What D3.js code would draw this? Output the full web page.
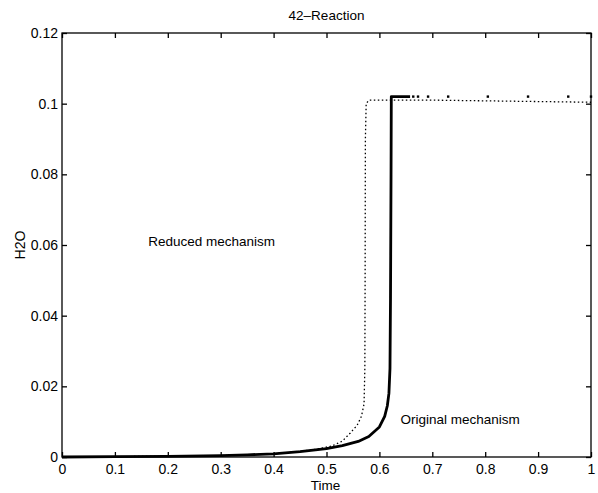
<!DOCTYPE html>
<html>
<head>
<meta charset="utf-8">
<script src="https://cdn.jsdelivr.net/npm/d3@7"></script>
<style>
  html, body { margin: 0; padding: 0; background: #fff; }
  svg { display: block; }
  text { font-family: "Liberation Sans", Arial, Helvetica, sans-serif; fill: #000; }
</style>
</head>
<body>
<svg id="chart" width="598" height="493"></svg>
<script>
// ---- data ----
const chartTitle = "42\u2013Reaction";
const xLabel = "Time";
const yLabel = "H2O";
const xTicks = [0, 0.1, 0.2, 0.3, 0.4, 0.5, 0.6, 0.7, 0.8, 0.9, 1];
const yTicks = [0, 0.02, 0.04, 0.06, 0.08, 0.1, 0.12];

// Original mechanism (solid)
const timeOrig = [0, 0.1, 0.2, 0.3, 0.35, 0.4, 0.45, 0.5, 0.53, 0.56, 0.58, 0.6, 0.61, 0.615, 0.618, 0.62, 0.621, 0.622, 0.6225, 0.63, 0.645, 0.658];
const h2oOrig  = [0, 0.0001, 0.0002, 0.0004, 0.0006, 0.0009, 0.0015, 0.0024, 0.0032, 0.0044, 0.0058, 0.0085, 0.0115, 0.0145, 0.018, 0.025, 0.045, 0.08, 0.102, 0.102, 0.102, 0.102];
// sparse output points of the original mechanism after ignition
const timeOrigPts = [0.664, 0.673, 0.692, 0.73, 0.805, 0.881, 0.957, 1.0];
const h2oOrigPts  = [0.102, 0.102, 0.102, 0.102, 0.102, 0.102, 0.102, 0.102];

// Reduced mechanism (dotted)
const timeRed = [0, 0.1, 0.2, 0.3, 0.35, 0.4, 0.45, 0.48, 0.51, 0.53, 0.545, 0.558, 0.566, 0.571, 0.5725, 0.573, 0.5735, 0.575, 0.58, 0.7, 0.85, 1.0];
const h2oRed  = [0, 0.0001, 0.0002, 0.0004, 0.0006, 0.0009, 0.0016, 0.0022, 0.0031, 0.0045, 0.0068, 0.009, 0.0115, 0.015, 0.025, 0.05, 0.09, 0.1, 0.101, 0.101, 0.1007, 0.1004];

const labels = [
  { text: "Reduced mechanism", x: 0.163, y: 0.0597 },
  { text: "Original mechanism", x: 0.64, y: 0.0093 }
];

// ---- layout ----
const svg = d3.select("#chart");
const mLeft = 62, mRight = 591, mTop = 33, mBottom = 457;
const x = d3.scaleLinear().domain([0, 1]).range([mLeft, mRight]);
const y = d3.scaleLinear().domain([0, 0.12]).range([mBottom, mTop]);
const tickLen = 5;

// curves (clipped to plot area)
svg.append("clipPath").attr("id", "clip")
  .append("rect").attr("x", mLeft).attr("y", mTop - 2).attr("width", mRight - mLeft + 2).attr("height", mBottom - mTop + 4);

const g = svg.append("g").attr("clip-path", "url(#clip)");
const line = d3.line().x(d => x(d[0])).y(d => y(d[1]));

g.append("path")
  .datum(timeRed.map((t, i) => [t, h2oRed[i]]))
  .attr("d", line)
  .attr("fill", "none")
  .attr("stroke", "#000")
  .attr("stroke-width", 1.3)
  .attr("stroke-dasharray", "1.5,2.5");

g.append("path")
  .datum(timeOrig.map((t, i) => [t, h2oOrig[i]]))
  .attr("d", line)
  .attr("fill", "none")
  .attr("stroke", "#000")
  .attr("stroke-width", 2.8)
  .attr("stroke-linejoin", "round");

g.selectAll("rect.pt")
  .data(timeOrigPts.map((t, i) => [t, h2oOrigPts[i]]))
  .enter().append("rect")
  .attr("class", "pt")
  .attr("x", d => x(d[0]) - 1.2)
  .attr("y", d => y(d[1]) - 1.2)
  .attr("width", 2.4).attr("height", 2.4)
  .attr("fill", "#000");

// axes box
svg.append("rect")
  .attr("x", mLeft).attr("y", mTop)
  .attr("width", mRight - mLeft).attr("height", mBottom - mTop)
  .attr("fill", "none").attr("stroke", "#000").attr("stroke-width", 1.3);

// bottom axis
const xAxis = d3.axisBottom(x).tickValues(xTicks).tickSize(-tickLen).tickPadding(7)
  .tickFormat(d => d3.format("")(d));
const gx = svg.append("g").attr("transform", `translate(0,${mBottom})`).call(xAxis);
// top axis ticks
const gxt = svg.append("g").attr("transform", `translate(0,${mTop})`)
  .call(d3.axisTop(x).tickValues(xTicks).tickSize(-tickLen).tickFormat(""));
// left axis
const yAxis = d3.axisLeft(y).tickValues(yTicks).tickSize(-tickLen).tickPadding(4)
  .tickFormat(d => d3.format("")(+d.toFixed(2)));
const gy = svg.append("g").attr("transform", `translate(${mLeft},0)`).call(yAxis);
// right axis ticks
const gyr = svg.append("g").attr("transform", `translate(${mRight},0)`)
  .call(d3.axisRight(y).tickValues(yTicks).tickSize(-tickLen).tickFormat(""));

[gx, gxt, gy, gyr].forEach(a => {
  a.select(".domain").remove();
  a.selectAll(".tick line").attr("stroke", "#000").attr("stroke-width", 1.3);
  a.selectAll("text").style("font-family", '"Liberation Sans", Arial, sans-serif')
    .style("font-size", "14px").attr("fill", "#000");
});

// titles
svg.append("text").attr("x", (mLeft + mRight) / 2).attr("y", 20)
  .attr("text-anchor", "middle").style("font-size", "13.5px").text(chartTitle);
svg.append("text").attr("x", (mLeft + mRight) / 2 - 1).attr("y", 490)
  .attr("text-anchor", "middle").style("font-size", "13.5px").text(xLabel);
svg.append("text")
  .attr("transform", `translate(25,${(mTop + mBottom) / 2}) rotate(-90)`)
  .attr("text-anchor", "middle").style("font-size", "14px").text(yLabel);

// annotations
svg.selectAll("text.lab").data(labels).enter().append("text")
  .attr("class", "lab")
  .attr("x", d => x(d.x)).attr("y", d => y(d.y))
  .style("font-size", "13.5px")
  .text(d => d.text);
</script>
</body>
</html>
